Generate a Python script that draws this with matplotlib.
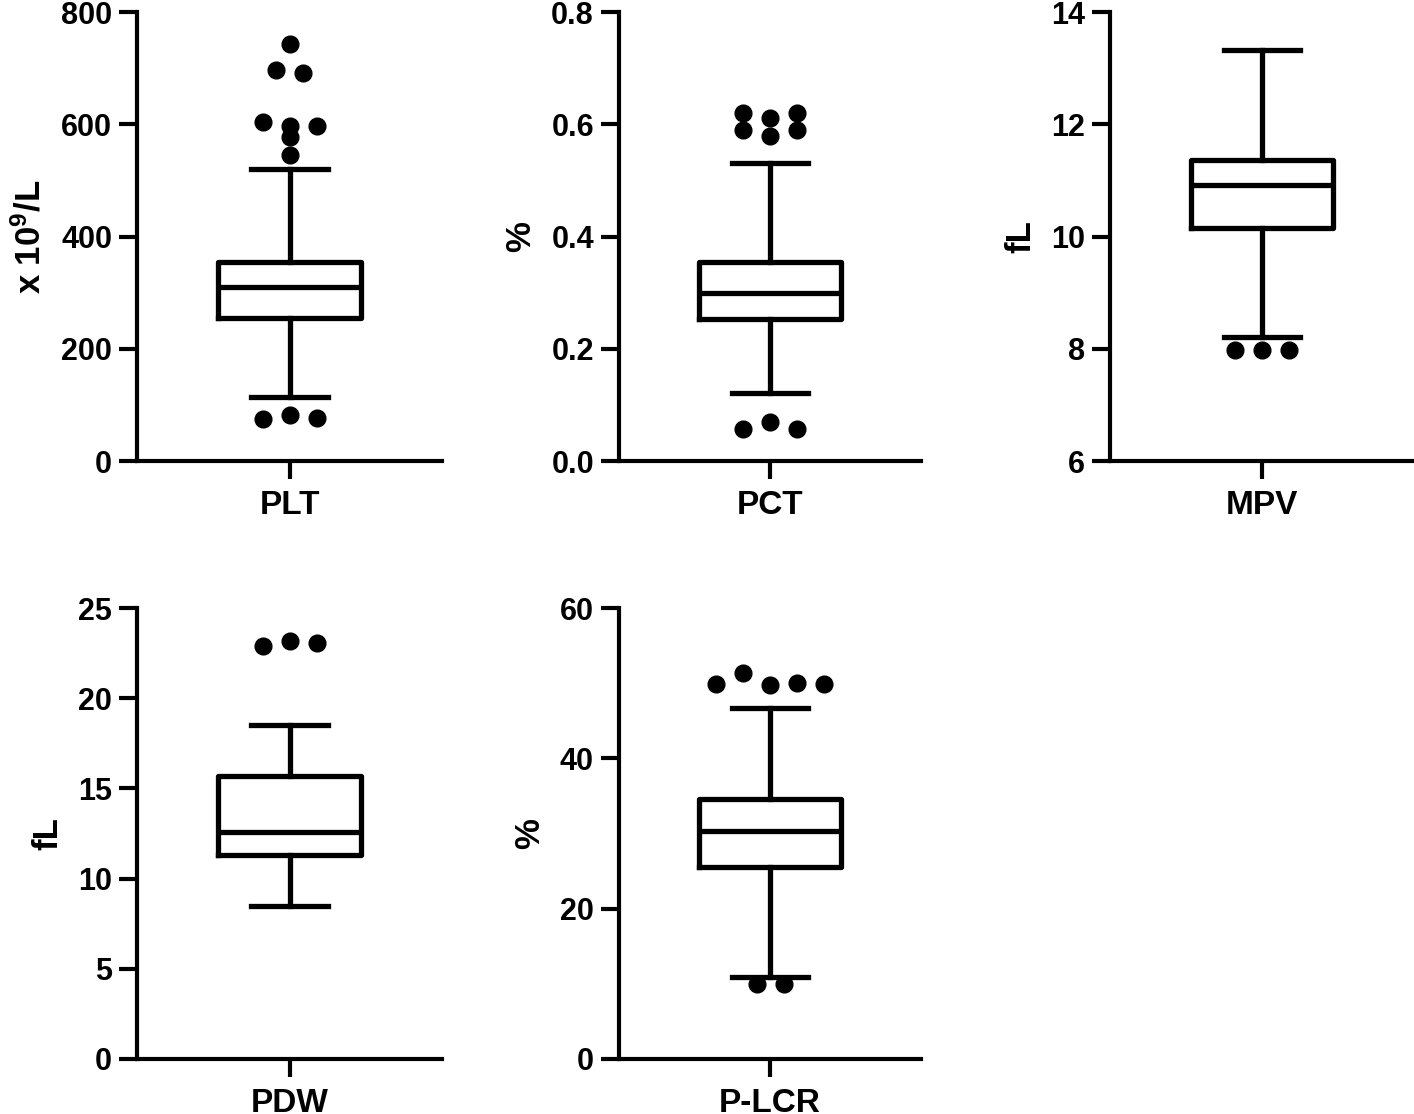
import matplotlib
matplotlib.use('Agg')
import matplotlib.pyplot as plt
import numpy as np

plt.rcParams['font.family'] = 'Liberation Sans'
plt.rcParams['font.weight'] = 'bold'
plt.rcParams['mathtext.fontset'] = 'custom'
plt.rcParams['mathtext.rm'] = 'Liberation Sans:bold'
plt.rcParams['mathtext.bf'] = 'Liberation Sans:bold'
plt.rcParams['mathtext.default'] = 'bf'

# box statistics
names = ['PLT', 'PCT', 'MPV', 'PDW', 'P-LCR']
units = [r'x 10$^{9}$/L', '%', 'fL', 'fL', '%']
q1 = [255, 0.253, 10.15, 11.3, 25.5]
med = [310, 0.299, 10.92, 12.58, 30.3]
q3 = [355, 0.355, 11.37, 15.69, 34.6]
whislo = [114, 0.121, 8.21, 8.48, 10.9]
whishi = [520, 0.531, 13.32, 18.51, 46.7]
fliers = [
    [743, 697, 691, 604, 597, 597, 577, 545, 75, 82, 77],
    [0.620, 0.611, 0.620, 0.590, 0.579, 0.590, 0.057, 0.0695, 0.057],
    [7.98, 7.98, 7.98],
    [22.89, 23.17, 23.06],
    [49.9, 51.35, 49.75, 50.0, 49.9, 9.98, 9.98],
]
ylims = [(0, 800), (0, 0.8), (6, 14), (0, 25), (0, 60)]
ysteps = [200, 0.2, 2, 5, 20]

W, H = 1414, 1114
fig = plt.figure(figsize=(W / 100, H / 100), dpi=100)

lefts = [137, 619, 1110]
widths = [305, 302, 304]
rows = [(12, 461), (608, 1059)]


def spread(ax, vals, row_px=14, step_px=27):
    # group points by height, then spread each group sideways
    vals = np.asarray(vals, dtype=float)
    pts = ax.transData.transform(np.column_stack([np.ones_like(vals), vals]))
    ypx = pts[:, 1]
    order = np.argsort(-ypx)
    groups, cur = [], [order[0]]
    for i in order[1:]:
        if ypx[cur[0]] - ypx[i] <= row_px:
            cur.append(i)
        else:
            groups.append(cur)
            cur = [i]
    groups.append(cur)
    xs = np.zeros_like(vals)
    for g in groups:
        g = sorted(g)
        n = len(g)
        for k, i in enumerate(g):
            xpx = pts[i, 0] + (k - (n - 1) / 2) * step_px
            xs[i] = ax.transData.inverted().transform((xpx, pts[i, 1]))[0]
    return xs, vals


for i, name in enumerate(names):
    r, c = divmod(i, 3)
    top, bot = rows[r]
    ax = fig.add_axes([lefts[c] / W, 1 - bot / H, widths[c] / W, (bot - top) / H])
    ax.set_xlim(0.5, 1.5)
    ax.set_ylim(*ylims[i])
    stats = [dict(med=med[i], q1=q1[i], q3=q3[i], whislo=whislo[i],
                  whishi=whishi[i], fliers=[])]
    lw = 3.8
    ax.bxp(stats, positions=[1], widths=0.47, capwidths=0.25, showfliers=False,
           boxprops=dict(color='black', linewidth=lw),
           medianprops=dict(color='black', linewidth=lw),
           whiskerprops=dict(color='black', linewidth=lw),
           capprops=dict(color='black', linewidth=lw))
    xs, ys = spread(ax, fliers[i])
    ax.scatter(xs, ys, s=145, color='black', zorder=3, clip_on=False)

    lo, hi = ylims[i]
    ax.set_yticks(np.arange(lo, hi + ysteps[i] / 2, ysteps[i]))
    if i == 1:
        ax.yaxis.set_major_formatter(matplotlib.ticker.FormatStrFormatter('%.1f'))
    ax.set_xticks([1])
    ax.set_xticklabels([name], fontsize=24)
    ax.set_xlim(0.5, 1.5)
    ax.set_ylim(lo, hi)
    for s in ['top', 'right']:
        ax.spines[s].set_visible(False)
    for s in ['left', 'bottom']:
        ax.spines[s].set_linewidth(3)
    ax.tick_params(axis='both', length=13, width=3, pad=5)
    ax.tick_params(axis='y', labelsize=22)
    ax.tick_params(axis='x', pad=8)
    ax.set_ylabel(units[i], fontsize=25, fontweight='bold', labelpad=10)

fig.savefig('out.png', dpi=100)
